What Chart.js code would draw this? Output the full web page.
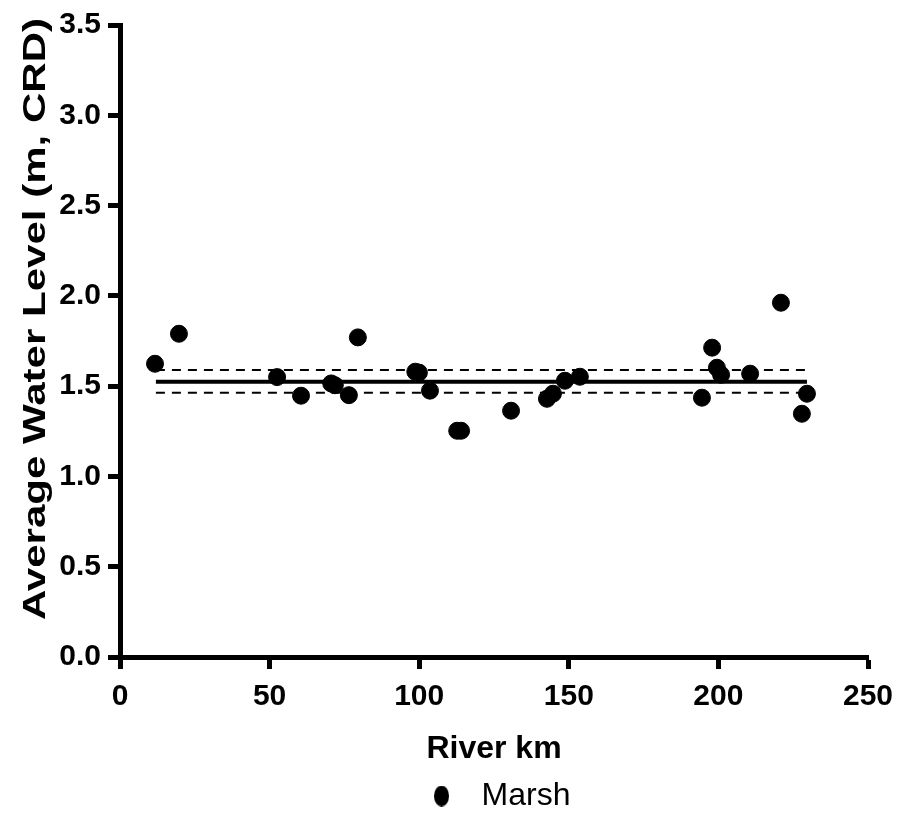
<!DOCTYPE html>
<html>
<head>
<meta charset="utf-8">
<script src="https://cdn.jsdelivr.net/npm/chart.js@4.4.0/dist/chart.umd.min.js"></script>
<style>
  body { margin: 0; background: #fff; }
</style>
</head>
<body>
<canvas id="grafico" width="912" height="822"></canvas>
<script>
// valores
var riverKm = [11.7, 19.7, 52.5, 60.5, 70.6, 71.8, 76.5, 79.5, 98.7, 99.9, 103.6, 112.7, 114.0,
               130.7, 142.7, 144.7, 148.7, 153.7, 194.5, 197.9, 199.5, 200.9, 210.6, 220.9, 227.9, 229.6];
var waterLevel = [1.624, 1.79, 1.55, 1.447, 1.515, 1.505, 1.45, 1.77, 1.58, 1.575, 1.475, 1.253, 1.253,
                  1.364, 1.43, 1.458, 1.53, 1.552, 1.436, 1.713, 1.602, 1.563, 1.569, 1.962, 1.347, 1.458];
var lineKm = [12, 229.6];
var meanLevel = 1.524;
var upperLevel = 1.589;
var lowerLevel = 1.463;
var xTicks = [0, 50, 100, 150, 200, 250];
var yTicks = [0, 0.5, 1.0, 1.5, 2.0, 2.5, 3.0, 3.5];

var normal = '"Liberation Sans", Arial, sans-serif';

function horizontal(level) {
    return lineKm.map(function (k) { return { x: k, y: level }; });
}

var pontos = riverKm.map(function (k, i) { return { x: k, y: waterLevel[i] }; });

// bolinha da legenda (elipse)
var bolinha = document.createElement('canvas');
bolinha.width = 15;
bolinha.height = 21;
var bctx = bolinha.getContext('2d');
bctx.fillStyle = '#000';
bctx.beginPath();
bctx.ellipse(7.5, 10.5, 7.5, 10.5, 0, 0, 2 * Math.PI);
bctx.fill();

// titulo do eixo y esticado, como no original
var tituloY = {
    id: 'tituloY',
    afterDraw: function (chart) {
        var ctx = chart.ctx;
        ctx.save();
        ctx.translate(45, 319);
        ctx.rotate(-Math.PI / 2);
        ctx.font = 'bold 32px ' + normal;
        var texto = 'Average Water Level (m, CRD)';
        var w = ctx.measureText(texto).width;
        ctx.scale(602 / w, 1);
        ctx.fillStyle = '#000';
        ctx.textAlign = 'center';
        ctx.textBaseline = 'alphabetic';
        ctx.fillText(texto, 0, 0);
        ctx.restore();
    }
};

var ctx = document.getElementById('grafico').getContext('2d');
var myChart = new Chart(ctx, {
    type: 'scatter',
    data: {
        datasets: [{
            label: 'Marsh',
            data: pontos,
            backgroundColor: '#000',
            borderColor: '#000',
            pointRadius: 8.5,
            pointHoverRadius: 8.5,
            pointStyle: 'circle',
            order: 0
        }, {
            label: 'media',
            type: 'line',
            data: horizontal(meanLevel),
            borderColor: '#000',
            borderWidth: 4,
            pointRadius: 0,
            order: 1
        }, {
            label: 'sup',
            type: 'line',
            data: horizontal(upperLevel),
            borderColor: '#000',
            borderWidth: 2,
            borderDash: [9, 7],
            pointRadius: 0,
            order: 1
        }, {
            label: 'inf',
            type: 'line',
            data: horizontal(lowerLevel),
            borderColor: '#000',
            borderWidth: 2,
            borderDash: [9, 7],
            pointRadius: 0,
            order: 1
        }]
    },
    options: {
        responsive: false,
        animation: false,
        devicePixelRatio: 1,
        layout: {
            padding: { left: 0, right: 44, top: 23, bottom: 0 }
        },
        plugins: {
            tooltip: { enabled: false },
            legend: {
                position: 'bottom',
                fullSize: false,
                labels: {
                    filter: function (item) { return item.text === 'Marsh'; },
                    usePointStyle: true,
                    pointStyle: bolinha,
                    pointStyleWidth: 48,
                    color: '#000',
                    padding: 1,
                    font: { family: normal, size: 32 }
                }
            }
        },
        scales: {
            x: {
                type: 'linear',
                min: 0,
                max: 250,
                afterBuildTicks: function (scale) {
                    scale.ticks = xTicks.map(function (v) { return { value: v }; });
                },
                afterFit: function (scale) { scale.height = 122; },
                grid: {
                    drawOnChartArea: false,
                    tickLength: 12,
                    tickWidth: 5,
                    tickColor: '#000'
                },
                border: { display: true, color: '#000', width: 5 },
                ticks: {
                    color: '#000',
                    padding: 10,
                    maxRotation: 0,
                    font: { family: normal, size: 30, weight: 'bold' }
                },
                title: {
                    display: true,
                    text: 'River km',
                    color: '#000',
                    padding: { top: 0, bottom: 11 },
                    font: { family: normal, size: 32, weight: 'bold' }
                }
            },
            y: {
                type: 'linear',
                min: 0,
                max: 3.5,
                afterBuildTicks: function (scale) {
                    scale.ticks = yTicks.map(function (v) { return { value: v }; });
                },
                afterFit: function (scale) { scale.width = 120; },
                grid: {
                    drawOnChartArea: false,
                    tickLength: 12,
                    tickWidth: 5,
                    tickColor: '#000'
                },
                border: { display: true, color: '#000', width: 5 },
                ticks: {
                    color: '#000',
                    padding: 7,
                    callback: function (v) { return v.toFixed(1); },
                    font: { family: normal, size: 30, weight: 'bold' }
                }
            }
        }
    },
    plugins: [tituloY]
});
</script>
</body>
</html>
